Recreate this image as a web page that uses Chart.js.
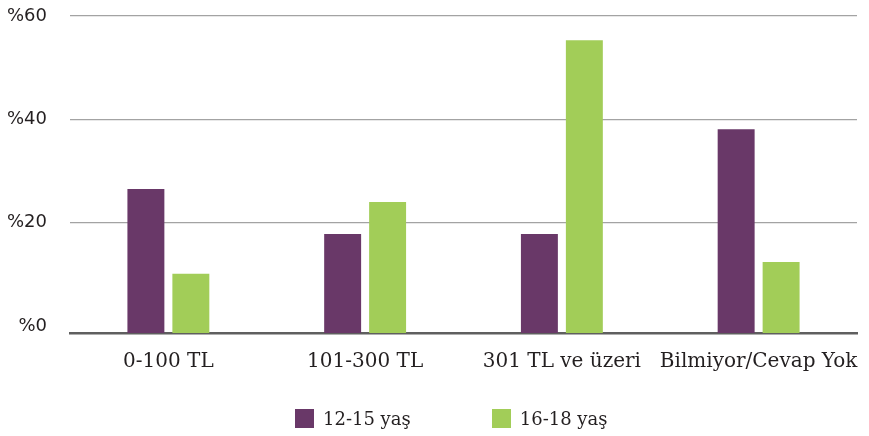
<!DOCTYPE html>
<html>
<head>
<meta charset="utf-8">
<script src="https://cdn.jsdelivr.net/npm/chart.js@4.4.1/dist/chart.umd.min.js"></script>
<style>
    body { margin: 0; background: #fff; }
    #wrap { position: relative; width: 869px; height: 436px; }
    #legend {
        position: absolute; left: 295px; top: 409px;
        display: flex; font-family: "DejaVu Serif", serif; font-size: 18px; color: #231f20;
    }
    .item { display: flex; align-items: center; height: 19px; }
    .item + .item { margin-left: 81px; }
    .box { width: 19px; height: 19px; margin-right: 9px; }
</style>
</head>
<body>
<div id="wrap">
    <canvas id="barChart" width="869" height="436"></canvas>
    <div id="legend"></div>
</div>
<script>
// data
const categories = ['0-100 TL', '101-300 TL', '301 TL ve üzeri', 'Bilmiyor/Cevap Yok'];
const seriesNames = ['12-15 yaş', '16-18 yaş'];
const age12to15 = [26.5, 17.8, 17.8, 38.1];
const age16to18 = [10.1, 24.0, 55.3, 12.4];
const tickValues = [0, 20, 40, 60];

const colors = ['#693868', '#a2cd58'];
// axis line sits a bit below the %0 label in the original
const AXIS_FLOOR = -1.35;

const ctx = document.getElementById('barChart').getContext('2d');

const myChart = new Chart(ctx, {
    type: 'bar',
    data: {
        labels: categories,
        datasets: [
            {
                label: seriesNames[0],
                data: age12to15,
                backgroundColor: colors[0],
                base: AXIS_FLOOR,
                barPercentage: 0.822,
                categoryPercentage: 0.457
            },
            {
                label: seriesNames[1],
                data: age16to18,
                backgroundColor: colors[1],
                base: AXIS_FLOOR,
                barPercentage: 0.822,
                categoryPercentage: 0.457
            }
        ]
    },
    options: {
        responsive: false,
        animation: false,
        layout: {
            padding: { top: 16, right: 12, bottom: 45, left: 0 }
        },
        plugins: {
            legend: { display: false },
            tooltip: { enabled: false }
        },
        scales: {
            x: {
                afterFit: function(scale) {
                    // long last label may hang past the plot edge, like the original
                    scale.paddingLeft = 0;
                    scale.paddingRight = 0;
                },
                grid: { display: false, drawTicks: false },
                border: { display: true, color: '#5f5f5f', width: 2.5 },
                ticks: {
                    autoSkip: false,
                    padding: 17,
                    color: '#231f20',
                    font: { family: 'DejaVu Serif', size: 20 },
                    maxRotation: 0
                }
            },
            y: {
                min: AXIS_FLOOR,
                max: 60,
                afterBuildTicks: function(scale) {
                    scale.ticks = tickValues.map(v => ({ value: v }));
                },
                afterFit: function(scale) {
                    scale.width = 70;
                },
                grid: {
                    drawTicks: true,
                    tickLength: 23,
                    tickColor: 'rgba(0,0,0,0)',
                    lineWidth: 1.3,
                    color: function(c) {
                        return c.tick && c.tick.value === 0 ? 'rgba(0,0,0,0)' : '#a3a3a3';
                    }
                },
                border: { display: false },
                ticks: {
                    padding: 0,
                    color: '#231f20',
                    font: { family: 'DejaVu Sans', size: 18 },
                    callback: function(value) {
                        return '%' + value;
                    }
                }
            }
        }
    }
});

// simple legend under the chart
const legendEl = document.getElementById('legend');
seriesNames.forEach((name, i) => {
    const item = document.createElement('div');
    item.className = 'item';
    item.innerHTML = `<span class="box" style="background:${colors[i]}"></span><span>${name}</span>`;
    legendEl.appendChild(item);
});
</script>
</body>
</html>
